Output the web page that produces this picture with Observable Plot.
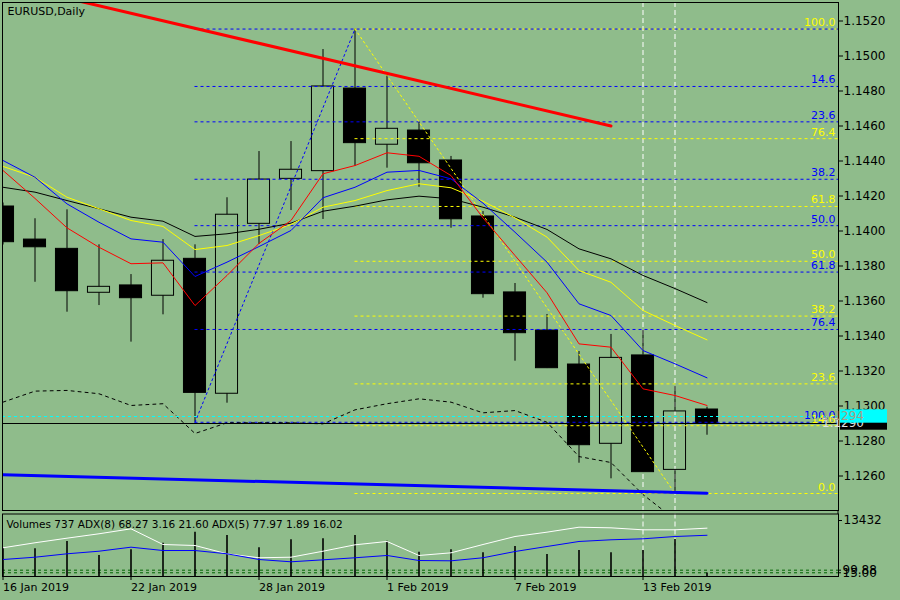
<!DOCTYPE html>
<html><head><meta charset="utf-8">
<script src="https://cdn.jsdelivr.net/npm/d3@7"></script>
<script src="https://cdn.jsdelivr.net/npm/@observablehq/plot@0.6"></script>
<style>
html,body{margin:0;padding:0;background:#8fbc8b;}
#chart{position:relative;width:900px;height:600px;background:#8fbc8b;overflow:hidden;font-family:"DejaVu Sans",sans-serif;}
#chart svg{position:absolute;left:0;overflow:visible;}
</style></head><body><div id="chart"></div>
<script>
// ---- data ----
const symbolTitle = "EURUSD,Daily";
const dates = ["16 Jan 2019","17 Jan 2019","18 Jan 2019","21 Jan 2019","22 Jan 2019","23 Jan 2019","24 Jan 2019","25 Jan 2019","28 Jan 2019","29 Jan 2019","30 Jan 2019","31 Jan 2019","1 Feb 2019","4 Feb 2019","5 Feb 2019","6 Feb 2019","7 Feb 2019","8 Feb 2019","11 Feb 2019","12 Feb 2019","13 Feb 2019","14 Feb 2019","15 Feb 2019"];
const dateTicks = [0,4,8,12,16,20];
const open  = [1.14140,1.13951,1.13898,1.13647,1.13689,1.13630,1.13841,1.13070,1.14041,1.14298,1.14342,1.14814,1.14493,1.14574,1.14403,1.14083,1.13649,1.13431,1.13237,1.12784,1.13289,1.12635,1.12980];
const high  = [1.14160,1.14070,1.14121,1.13921,1.13751,1.13951,1.13921,1.14190,1.14454,1.14511,1.15037,1.15154,1.14904,1.14622,1.14426,1.14111,1.13700,1.13523,1.13311,1.13409,1.13431,1.13111,1.12993];
const low   = [1.13920,1.13707,1.13536,1.13574,1.13365,1.13521,1.12907,1.13016,1.13923,1.14117,1.14066,1.14370,1.14359,1.14250,1.14016,1.13616,1.13256,1.13214,1.12673,1.12584,1.12620,1.12500,1.12833];
const close = [1.13936,1.13907,1.13656,1.13681,1.13616,1.13830,1.13075,1.14093,1.14294,1.14350,1.14826,1.14502,1.14584,1.14387,1.14067,1.13639,1.13416,1.13216,1.12776,1.13275,1.12622,1.12969,1.12900];

const maRed    = [1.14346,1.14186,1.14018,1.13907,1.13813,1.13818,1.13574,1.13746,1.13929,1.14060,1.14327,1.14374,1.14447,1.14427,1.14317,1.14075,1.13860,1.13647,1.13355,1.13336,1.13098,1.13060,1.13003];
const maBlue   = [1.14403,1.14307,1.14155,1.14050,1.13955,1.13936,1.13740,1.13822,1.13911,1.14003,1.14190,1.14250,1.14336,1.14346,1.14298,1.14159,1.13993,1.13822,1.13584,1.13517,1.13317,1.13241,1.13161];
const maYellow = [1.14369,1.14307,1.14193,1.14127,1.14060,1.14026,1.13894,1.13917,1.13974,1.14037,1.14136,1.14174,1.14231,1.14270,1.14247,1.14170,1.14075,1.13965,1.13774,1.13707,1.13546,1.13460,1.13378];
const maBlack  = [1.14250,1.14222,1.14174,1.14127,1.14079,1.14056,1.13969,1.13984,1.14010,1.14045,1.14113,1.14142,1.14178,1.14199,1.14184,1.14136,1.14079,1.14009,1.13898,1.13841,1.13746,1.13671,1.13591];
const envelopeLow = [1.13022,1.13085,1.13089,1.13070,1.13003,1.13013,1.12843,1.12904,1.12904,1.12904,1.12898,1.12978,1.13013,1.13041,1.13022,1.12961,1.12974,1.12907,1.12711,1.12677,1.12494,1.12351];

const fibLevels = [0, 14.6, 23.6, 38.2, 50.0, 61.8, 76.4, 100.0];
const blueFibFrom = 6, blueFibTo = 11;     // low bar -> high bar
const yellowFibFrom = 11, yellowFibTo = 21; // high bar -> low bar
const redTrendIdx = [2, 19], redTrendPrice = [1.1533, 1.1460];
const blueTrendIdx = [0, 22], blueTrendPrice = [1.12607, 1.12502];
const askPrice = 1.1294, bidPrice = 1.1290;
const priceTicks = [1.1260,1.1280,1.1300,1.1320,1.1340,1.1360,1.1380,1.1400,1.1420,1.1440,1.1460,1.1480,1.1500,1.1520];
const markedBars = [20, 21];

const volumes = [6200,6001,7582,4549,5784,7214,9597,8882,6218,7951,8167,8882,7647,5264,5784,5134,6499,4766,5633,5134,5633,8016,737];
const adx5 = [46.3,54.4,61.8,68.9,76.9,51.6,50.0,36.6,30.2,31.1,40.8,51.1,56.5,33.9,38.2,51.6,64.5,71.5,79.5,78.5,75.3,75.3,77.97];
const adx8 = [27.4,31.1,36.6,40.8,47.3,41.9,41.9,36.6,27.4,23.7,26.9,30.2,33.9,25.8,25.3,30.2,40.3,48.4,56.5,59.2,60.8,64.5,66.5];
const adxLevels = [10.2, 6.0];
const adxLevelLabels = ["99.88", "15.00"];
const volumeMax = 13432;
const subTitle = "Volumes 737 ADX(8) 68.27 3.16 21.60 ADX(5) 77.97 1.89 16.02";

// ---- derived tables ----
const idx = d3.range(open.length);
const candles = idx.map(i => ({i, o: open[i], h: high[i], l: low[i], c: close[i]}));
const bulls = candles.filter(d => d.c >= d.o);
const bears = candles.filter(d => d.c < d.o);
const wicks = candles.flatMap(d => [
  {i: d.i, y1: d.h, y2: Math.max(d.o, d.c)},
  {i: d.i, y1: Math.min(d.o, d.c), y2: d.l}
]);
const bHi = high[blueFibTo], bLo = low[blueFibFrom];
const blueFib = fibLevels.map(l => ({l, p: bHi - (bHi - bLo) * l / 100, t: l.toFixed(1)}));
const yHi = high[yellowFibFrom], yLo = low[yellowFibTo];
const yellowFib = fibLevels.map(l => ({l, p: yLo + (yHi - yLo) * l / 100, t: l.toFixed(1)}));
const blueDiag = [{i: blueFibFrom, p: bLo}, {i: blueFibTo, p: bHi}];
const yellowDiag = [{i: yellowFibFrom, p: yHi}, {i: yellowFibTo, p: yLo}];
const redTrend = redTrendIdx.map((i, k) => ({i, p: redTrendPrice[k]}));
const blueTrend = blueTrendIdx.map((i, k) => ({i, p: blueTrendPrice[k]}));
const adxScale = volumeMax / 100;
const volRows = idx.map(i => ({i, v: volumes[i], a5: adx5[i] * adxScale, a8: adx8[i] * adxScale}));
const levelRows = adxLevels.map((l, k) => ({v: l * adxScale, t: adxLevelLabels[k]}));

// ---- layout constants ----
const X0 = -0.5 / 32, X1 = (838 - 2.5) / 32;
const Y0 = 1.1520 - (509 - 20.5) / 17500, Y1 = 1.1520 + 18.5 / 17500;
const BW = 0.345;
const TICK = 3 / 32;
const font = "DejaVu Sans";

const chart = document.getElementById("chart");

const main = Plot.plot({
  width: 900, height: 511,
  marginLeft: 2, marginRight: 62, marginTop: 2, marginBottom: 1,
  style: {background: "transparent", color: "black", fontFamily: font, fontSize: "11px", overflow: "visible"},
  x: {type: "linear", domain: [X0, X1], range: [2, 838], axis: null, label: null},
  y: {type: "linear", domain: [Y0, Y1], range: [509, 2], axis: null, label: null},
  marks: [
    Plot.ruleX(markedBars, {x: d => d, stroke: "white", strokeDasharray: "5,3", strokeWidth: 1}),
    Plot.ruleX(wicks, {x: "i", y1: "y1", y2: "y2", stroke: "black", strokeWidth: 1, clip: true}),
    Plot.rect(bears, {x1: d => d.i - BW, x2: d => d.i + BW, y1: "o", y2: "c", fill: "black", stroke: "black", clip: true}),
    Plot.rect(bulls, {x1: d => d.i - BW, x2: d => d.i + BW, y1: "o", y2: "c", fill: "none", stroke: "black", strokeWidth: 1, clip: true}),
    // fib levels
    Plot.ruleY(yellowFib, {y: "p", x1: yellowFibFrom, x2: X1, stroke: "#ffff00", strokeDasharray: "3,3", strokeWidth: 1}),
    Plot.ruleY(blueFib, {y: "p", x1: blueFibFrom, x2: X1, stroke: "#0000ff", strokeDasharray: "3,3", strokeWidth: 1}),
    Plot.line(blueDiag, {x: "i", y: "p", stroke: "#0000ff", strokeDasharray: "2,3", strokeWidth: 1}),
    Plot.line(yellowDiag, {x: "i", y: "p", stroke: "#ffff00", strokeDasharray: "2,3", strokeWidth: 1}),
    // moving averages & envelope
    Plot.line(idx, {x: i => i, y: i => maBlack[i], stroke: "black", strokeWidth: 1, clip: true}),
    Plot.line(idx, {x: i => i, y: i => maYellow[i], stroke: "#ffff00", strokeWidth: 1, clip: true}),
    Plot.line(idx, {x: i => i, y: i => maBlue[i], stroke: "#0000ff", strokeWidth: 1, clip: true}),
    Plot.line(idx, {x: i => i, y: i => maRed[i], stroke: "#ff0000", strokeWidth: 1, clip: true}),
    Plot.line(envelopeLow.map((v, i) => ({i, v})), {x: "i", y: "v", stroke: "black", strokeDasharray: "3,4", strokeWidth: 1, clip: true}),
    // trendlines
    Plot.line(redTrend, {x: "i", y: "p", stroke: "#ff0000", strokeWidth: 3, clip: true}),
    Plot.line(blueTrend, {x: "i", y: "p", stroke: "#0000ff", strokeWidth: 3, clip: true}),
    // ask / bid lines
    Plot.ruleY([askPrice], {stroke: "#00ffff", strokeDasharray: "3,3", strokeWidth: 1}),
    Plot.ruleY([bidPrice], {stroke: "black", strokeWidth: 1}),
    // fib labels
    Plot.text(blueFib.filter(d => d.l !== 0), {x: X1, y: "p", text: "t", textAnchor: "end", lineAnchor: "bottom", dx: -3, dy: -3, fill: "#0000ff", fontSize: 11}),
    Plot.text(yellowFib, {x: X1, y: "p", text: "t", textAnchor: "end", lineAnchor: "bottom", dx: -3, dy: -3, fill: "#ffff00", fontSize: 11}),
    Plot.frame({stroke: "black"}),
    Plot.axisY(priceTicks, {anchor: "right", label: null, tickSize: 4, tickPadding: 1, tickFormat: d => d.toFixed(4), fontSize: 12}),
    Plot.text([symbolTitle], {frameAnchor: "top-left", dx: 5, dy: 5, lineAnchor: "top", textAnchor: "start", fontSize: 11})
  ]
});
main.style.top = "0px";
chart.appendChild(main);

// price label boxes on the right axis, placed with the y scale
const ys = main.scale("y");
const sm = d3.select(main);
function priceBox(p, bg, fg) {
  const y = ys.apply(p);
  sm.append("rect").attr("x", 840).attr("y", y - 6.7).attr("width", 47).attr("height", 13.4).attr("fill", bg);
  sm.append("text").attr("x", 843).attr("y", y).attr("dy", "0.36em").attr("fill", fg)
    .attr("font-family", font).attr("font-size", 12).text(p.toFixed(4));
}
priceBox(bidPrice, "black", "#e0e0e0");
priceBox(askPrice, "#00ffff", "#a89c84");

const lower = Plot.plot({
  width: 900, height: 89,
  marginLeft: 2, marginRight: 62, marginTop: 2.5, marginBottom: 24,
  style: {background: "transparent", color: "black", fontFamily: font, fontSize: "11px", overflow: "visible"},
  x: {type: "linear", domain: [X0, X1], range: [2, 838], axis: null, label: null},
  y: {type: "linear", domain: [0, volumeMax], range: [65, 3], axis: null, label: null},
  marks: [
    Plot.ruleX(markedBars, {x: d => d, stroke: "white", strokeDasharray: "5,3", strokeWidth: 1}),
    Plot.ruleY(levelRows, {y: "v", stroke: "#006400", strokeDasharray: "3,3", strokeWidth: 1}),
    Plot.ruleX(volRows, {x: "i", y1: 0, y2: "v", stroke: "black", strokeWidth: 1.6}),
    Plot.line(volRows, {x: "i", y: "a5", stroke: "white", strokeWidth: 1}),
    Plot.line(volRows, {x: "i", y: "a8", stroke: "#0000ff", strokeWidth: 1}),
    Plot.frame({stroke: "black"}),
    Plot.axisX(dateTicks, {anchor: "bottom", label: null, tickSize: 4, tickPadding: 3, tickFormat: i => dates[i], textAnchor: "start", fontSize: 11}),
    Plot.axisY([volumeMax], {anchor: "right", label: null, tickSize: 3, tickPadding: 2, tickFormat: d => String(d), dy: 6, fontSize: 12}),
    Plot.ruleY(levelRows, {y: "v", x1: X1, x2: X1 + TICK, stroke: "black"}),
    Plot.text(levelRows, {y: "v", x: X1, text: "t", dx: 4, textAnchor: "start", fontSize: 12}),
    Plot.text([subTitle], {frameAnchor: "top-left", dx: 4, dy: 7, lineAnchor: "top", textAnchor: "start", fontSize: 10.5})
  ]
});
lower.style.top = "511px";
chart.appendChild(lower);
d3.select(lower).append("line").attr("x1", 838).attr("x2", 838).attr("y1", -1).attr("y2", 3).attr("stroke", "black");
</script>
</body></html>
